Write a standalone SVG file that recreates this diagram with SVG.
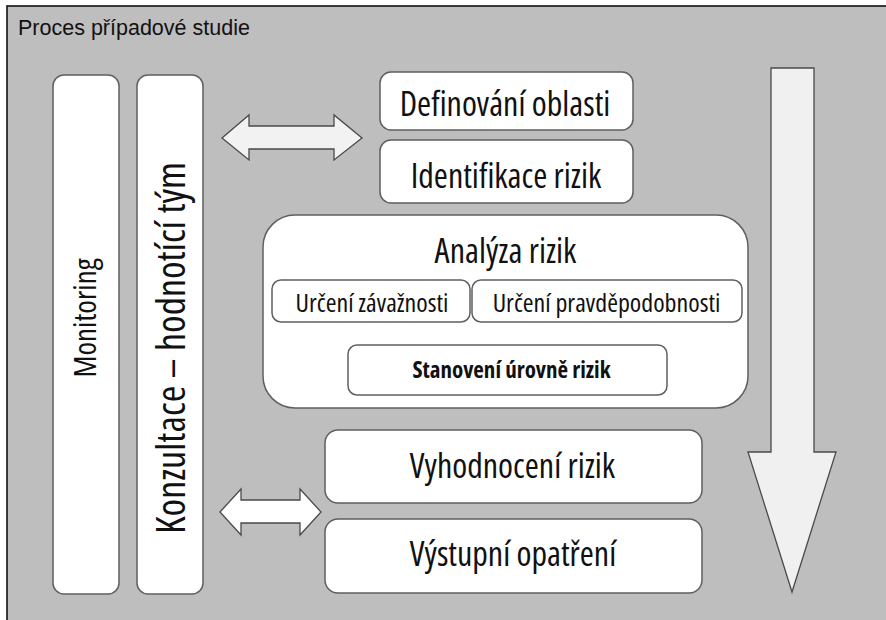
<svg xmlns="http://www.w3.org/2000/svg" width="886" height="620" viewBox="0 0 886 620">
  <style>
    .box { fill: #ffffff; stroke: #5f5f5f; stroke-width: 1.5; }
    .lbl { font-family: "Open Sans", "Liberation Sans", Arial, sans-serif; font-weight: 500; fill: #111111; text-anchor: middle; font-stretch: 80%; }
    .big { font-size: 34px; }
    .mid { font-size: 26px; }
    .arrow { stroke: #4a4a4a; stroke-width: 1.3; stroke-linejoin: miter; }
  </style>

  <!-- page and panel -->
  <rect x="0" y="0" width="886" height="620" fill="#ffffff"/>
  <rect x="7" y="6" width="890" height="620" fill="#bebebe" stroke="#111111" stroke-width="1.6"/>
  <text x="18" y="35" font-size="21.5" style="font-family:'Liberation Sans',Arial,sans-serif;fill:#111111">Proces případové studie</text>

  <!-- vertical side bands -->
  <g id="monitoring">
    <rect class="box" x="53" y="75" width="66" height="519" rx="11"/>
    <text class="lbl" font-size="31" transform="translate(96,318) rotate(-90)" style="font-stretch:75%">Monitoring</text>
  </g>
  <g id="konzultace">
    <rect class="box" x="137" y="75" width="66" height="519" rx="11"/>
    <text class="lbl" font-size="40" transform="translate(185,348) rotate(-90)">Konzultace – hodnotící tým</text>
  </g>

  <!-- process steps -->
  <g id="definovani">
    <rect class="box" x="380" y="72" width="253" height="58" rx="11"/>
    <text class="lbl big" x="505" y="116">Definování oblasti</text>
  </g>
  <g id="identifikace">
    <rect class="box" x="380" y="140" width="253" height="63" rx="11"/>
    <text class="lbl big" x="506" y="188">Identifikace rizik</text>
  </g>

  <g id="analyza">
    <rect class="box" x="263" y="215" width="485" height="193" rx="32"/>
    <text class="lbl big" x="505.5" y="263">Analýza rizik</text>
  </g>
  <g id="zavaznost">
    <rect class="box" x="272" y="280" width="198" height="42" rx="9"/>
    <text class="lbl mid" x="372" y="312">Určení závažnosti</text>
  </g>
  <g id="pravdepodobnost">
    <rect class="box" x="472" y="280" width="270" height="42" rx="9"/>
    <text class="lbl mid" x="606.5" y="312">Určení pravděpodobnosti</text>
  </g>
  <g id="stanoveni">
    <rect class="box" x="348" y="345" width="319" height="50" rx="9"/>
    <text class="lbl" x="511.5" y="378" font-size="23" style="font-weight:700;font-stretch:78%">Stanovení úrovně rizik</text>
  </g>

  <g id="vyhodnoceni">
    <rect class="box" x="325" y="430" width="377" height="73" rx="13"/>
    <text class="lbl big" x="512.5" y="478">Vyhodnocení rizik</text>
  </g>
  <g id="vystupni">
    <rect class="box" x="325" y="519" width="377" height="74" rx="13"/>
    <text class="lbl big" x="513" y="566">Výstupní opatření</text>
  </g>

  <!-- connectors -->
  <g id="connectors">
    <polygon class="arrow" fill="#f2f2f2" points="222,138 249,115 249,126 334,126 334,115 362,138 334,160 334,149 249,149 249,160"/>
    <polygon class="arrow" fill="#ffffff" points="220,512 241,489 241,500 300,500 300,489 321,512 300,535 300,523 241,523 241,535"/>
    <polygon class="arrow" fill="#f0f0f0" points="771,68 814,68 814,452 836,452 792,592 748,452 771,452"/>
  </g>
</svg>
